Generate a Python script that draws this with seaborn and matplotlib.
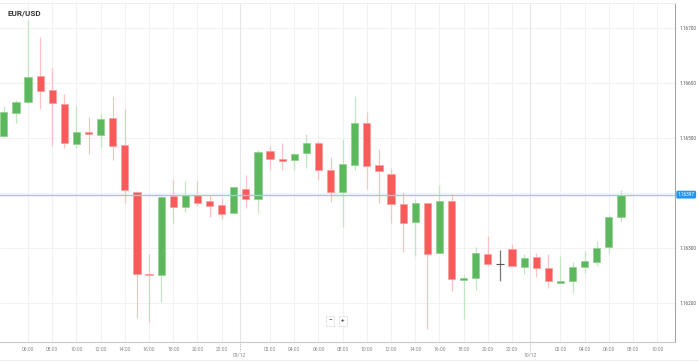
import pandas as pd
import matplotlib
matplotlib.use("Agg")
import matplotlib.pyplot as plt
import matplotlib.dates as mdates
import matplotlib.transforms as mtransforms
import seaborn as sns

sns.set_theme(style="white")
plt.rcParams["font.family"] = ["Roboto", "DejaVu Sans"]

# ---- data (hourly EUR/USD candles) ----
symbol = "EUR/USD"
first_candle = "2025-12-08 04:00"

opens = [
    1.16504, 1.16546, 1.16565, 1.16613, 1.16587, 1.16562, 1.16489, 1.16511, 1.16506, 1.16537,
    1.16487, 1.16402, 1.16253, 1.16250, 1.16395, 1.16375, 1.16396, 1.16385, 1.16378, 1.16364,
    1.16408, 1.16389, 1.16476, 1.16462, 1.16460, 1.16472, 1.16490, 1.16442, 1.16402, 1.16451,
    1.16528, 1.16450, 1.16435, 1.16380, 1.16347, 1.16381, 1.16290, 1.16386, 1.16242, 1.16245,
    1.16289, 1.16270, 1.16299, 1.16266, 1.16284, 1.16264, 1.16237, 1.16240, 1.16266, 1.16274,
    1.16301, 1.16357,
]
highs = [
    1.16558, 1.16569, 1.16715, 1.16683, 1.16627, 1.16580, 1.16559, 1.16538, 1.16543, 1.16577,
    1.16552, 1.16404, 1.16289, 1.16394, 1.16425, 1.16421, 1.16422, 1.16396, 1.16390, 1.16411,
    1.16433, 1.16479, 1.16486, 1.16491, 1.16473, 1.16507, 1.16495, 1.16465, 1.16499, 1.16576,
    1.16547, 1.16480, 1.16446, 1.16401, 1.16389, 1.16382, 1.16415, 1.16399, 1.16251, 1.16301,
    1.16322, 1.16296, 1.16307, 1.16289, 1.16290, 1.16289, 1.16286, 1.16275, 1.16295, 1.16313,
    1.16360, 1.16405,
]
lows = [
    1.16502, 1.16528, 1.16564, 1.16553, 1.16485, 1.16482, 1.16481, 1.16470, 1.16481, 1.16460,
    1.16381, 1.16173, 1.16166, 1.16201, 1.16345, 1.16366, 1.16377, 1.16356, 1.16353, 1.16364,
    1.16372, 1.16363, 1.16441, 1.16441, 1.16441, 1.16445, 1.16424, 1.16384, 1.16339, 1.16441,
    1.16407, 1.16382, 1.16346, 1.16292, 1.16286, 1.16152, 1.16290, 1.16222, 1.16170, 1.16224,
    1.16268, 1.16240, 1.16268, 1.16252, 1.16247, 1.16227, 1.16237, 1.16219, 1.16254, 1.16268,
    1.16290, 1.16347,
]
closes = [
    1.16548, 1.16565, 1.16611, 1.16585, 1.16564, 1.16490, 1.16511, 1.16507, 1.16535, 1.16486,
    1.16405, 1.16252, 1.16250, 1.16393, 1.16375, 1.16396, 1.16382, 1.16376, 1.16362, 1.16410,
    1.16389, 1.16475, 1.16461, 1.16459, 1.16471, 1.16491, 1.16442, 1.16402, 1.16452, 1.16527,
    1.16449, 1.16440, 1.16380, 1.16346, 1.16382, 1.16289, 1.16385, 1.16243, 1.16245, 1.16290,
    1.16270, 1.16270, 1.16268, 1.16282, 1.16264, 1.16240, 1.16240, 1.16266, 1.16277, 1.16300,
    1.16356, 1.16397,
]
last_price = 1.16397
price_ticks = [1.162, 1.163, 1.164, 1.165, 1.166, 1.167]
first_tick = "2025-12-08 06:00"
last_tick = "2025-12-10 10:00"
day_marks = ["2025-12-08 23:30", "2025-12-09 23:30"]
day_labels = ["09/12", "10/12"]

UP = "#5cb85c"
DOWN = "#f95b5b"
FLAT = "#555555"

df = pd.DataFrame({
    "time": pd.date_range(first_candle, periods=len(opens), freq="h"),
    "open": opens, "high": highs, "low": lows, "close": closes,
})
df["x"] = mdates.date2num(df["time"])

fig = plt.figure(figsize=(6.99, 3.61), dpi=100)
ax = fig.add_axes([0, 19 / 361, 675 / 699, 339 / 361])

# candles
width = 0.6 / 24
for _, r in df.iterrows():
    if r.close > r.open:
        body, edge, wick = UP, "#8fd08f", "#c2e5c2"
    elif r.close < r.open:
        body, edge, wick = DOWN, "#fb9d9d", "#fdc3c3"
    else:
        body, edge, wick = FLAT, FLAT, "#777777"
    ax.vlines(r.x, r.low, r.high, color=wick, lw=0.9, zorder=2)
    if r.close == r.open:
        ax.hlines(r.open, r.x - width / 2, r.x + width / 2, color=FLAT, lw=0.8, zorder=3)
        continue
    lo = min(r.open, r.close)
    height = max(abs(r.close - r.open), 0.00003)
    ax.bar(r.x, height, bottom=lo, width=width, color=body,
           edgecolor=edge, linewidth=0.5, zorder=3)

# current price line + label
ax.axhline(last_price, color="#8fcdf3", lw=1, zorder=4)
right = mtransforms.blended_transform_factory(ax.transAxes, ax.transData)
ax.text(1.004, last_price, f"{last_price:.5f}", transform=right, ha="left", va="center",
        fontsize=3.4, color="white", zorder=10, clip_on=False,
        bbox=dict(boxstyle="round,pad=0.3,rounding_size=0.3", fc="#2196f3", ec="none"))

# limits
ax.set_xlim(pd.Timestamp("2025-12-08 03:41"), pd.Timestamp("2025-12-10 11:28"))
ax.set_ylim(1.16129, 1.167455)

# axes styling: every 2 hours, midnight replaced by the date marker
hour_ticks = [t for t in pd.date_range(first_tick, last_tick, freq="2h") if t.hour != 0]
ax.set_xticks(mdates.date2num(hour_ticks))
ax.xaxis.set_major_formatter(mdates.DateFormatter("%H:%M"))
ax.set_yticks(price_ticks)
ax.set_yticklabels([f"{v:.5f}" for v in price_ticks])
ax.yaxis.tick_right()
ax.tick_params(axis="x", labelsize=3.6, colors="#888888", length=2, width=0.5, pad=1.5)
ax.tick_params(axis="y", labelsize=3.4, labelcolor="#555555", color="#999999",
               length=2, width=0.5, pad=1)
ax.grid(True, color="#f2f2f2", lw=0.8)
ax.set_axisbelow(True)

sns.despine(ax=ax, left=True, top=False, right=False)
ax.spines["right"].set_color("#a5a5a5")
ax.spines["right"].set_linewidth(0.8)
ax.spines["bottom"].set_color("#c8c8c8")
ax.spines["bottom"].set_linewidth(0.8)
ax.spines["top"].set_color("#eeeeee")
ax.spines["top"].set_linewidth(0.8)

# day separators
below = mtransforms.blended_transform_factory(ax.transData, ax.transAxes)
for d, lab in zip(day_marks, day_labels):
    xd = mdates.date2num(pd.Timestamp(d))
    ax.axvline(xd, color="#e6e6e6", lw=0.8, zorder=1)
    ax.plot([xd, xd], [0, -0.027], transform=below, color="#aaaaaa",
            lw=0.6, ls=(0, (1, 1)), clip_on=False)
    ax.text(xd, -0.038, lab, transform=below, ha="center", va="center",
            fontsize=3.6, color="#888888", clip_on=False)

# title
ax.text(8 / 675, 1 - 10 / 339, symbol, transform=ax.transAxes, ha="left", va="center",
        fontsize=5.8, fontweight="bold", color="#333333")

# zoom buttons
for xb, sym in [(330 / 675, "\u2212"), (343 / 675, "+")]:
    ax.text(xb, 21 / 339, sym, transform=ax.transAxes, ha="center", va="center",
            fontsize=4.5, fontweight="bold", color="#555555", zorder=10,
            bbox=dict(boxstyle="square,pad=0.35", fc="white", ec="#dddddd", lw=0.5))

fig.add_artist(plt.Line2D([0, 1], [1 / 361, 1 / 361], color="#eeeeee", lw=0.8))

fig.savefig("out.png", dpi=100)
